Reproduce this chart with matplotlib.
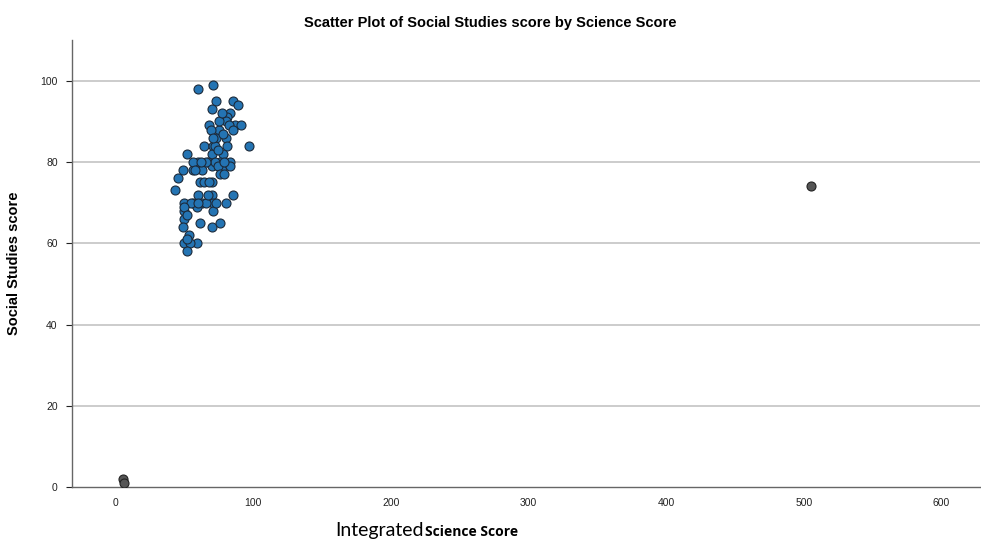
import matplotlib
matplotlib.use("Agg")
import matplotlib.pyplot as plt

# Main cluster (Science score, Social Studies score)
science = [60, 71, 73, 85, 89, 70, 83, 81, 80, 68, 75, 87, 91, 73, 80, 64, 97, 71, 81, 70,
           78, 52, 60, 67, 76, 83, 56, 63, 70, 77, 83, 49, 45, 61, 70, 43, 60, 70, 85, 50,
           56, 63, 71, 80, 59, 50, 71, 50, 61, 70, 76, 49, 53, 50, 59, 54, 52,
           75, 78, 72, 66, 74, 79, 64, 68, 76, 66, 73, 55, 60, 50, 52, 56, 72, 69, 82,
           85, 74, 62, 79, 67, 58, 52, 71, 77]
social = [98, 99, 95, 95, 94, 93, 92, 91, 90, 89, 88, 89, 89, 86, 86, 84, 84, 84, 84, 82,
          82, 82, 80, 80, 80, 80, 78, 78, 79, 78, 79, 78, 76, 75, 75, 73, 72, 72, 72, 70,
          70, 70, 70, 70, 69, 68, 68, 66, 65, 64, 65, 64, 62, 60, 60, 60, 58,
          90, 87, 80, 80, 79, 80, 75, 75, 77, 70, 70, 70, 70, 69, 61, 80, 84, 88, 89,
          88, 83, 80, 77, 72, 78, 67, 86, 92]

# Outlying cases
out_science = [5, 6, 505]
out_social = [2, 1, 74]

x_ticks = [0, 100, 200, 300, 400, 500, 600]
y_ticks = [0, 20, 40, 60, 80, 100]

fig = plt.figure(figsize=(9.81, 5.43), dpi=100)
ax = fig.add_axes([0.073, 0.103, 0.926, 0.823])

for y in y_ticks[1:]:
    ax.axhline(y, color="#c8c8c8", lw=1.3, zorder=0)

ax.scatter(science, social, s=42, c="#2474b3", edgecolors="#1c2a3a", linewidths=0.8, zorder=3)
ax.scatter(out_science, out_social, s=42, c="#555555", edgecolors="#222222", linewidths=0.8, zorder=3)

ax.set_xlim(-32, 628)
ax.set_ylim(0, 110)
ax.set_xticks(x_ticks)
ax.set_yticks(y_ticks)
ax.tick_params(axis="x", length=0, labelsize=7.5, pad=8, colors="#222222")
ax.tick_params(axis="y", length=4, labelsize=7.5, pad=6, colors="#222222")
for lab in ax.get_xticklabels() + ax.get_yticklabels():
    lab.set_family("Liberation Sans")

for s in ["top", "right"]:
    ax.spines[s].set_visible(False)
for s in ["left", "bottom"]:
    ax.spines[s].set_color("#666666")
    ax.spines[s].set_linewidth(1.0)

ax.set_ylabel("Social Studies score", fontsize=10.5, fontweight="bold",
              family="Liberation Sans", labelpad=14)

fig.text(0.5, 0.958, "Scatter Plot of Social Studies score by Science Score",
         ha="center", va="center", fontsize=10.5, fontweight="bold", family="Liberation Sans")

t1 = fig.text(0.342, 0.012, "Integrated", ha="left", va="baseline", fontsize=14, family="Lato")
fig.canvas.draw()
bb = t1.get_window_extent(fig.canvas.get_renderer())
x_next = bb.x1 / fig.bbox.width + 0.001
fig.text(x_next, 0.012, "Science Score", ha="left", va="baseline", fontsize=10,
         fontweight="bold", family="Open Sans")

fig.savefig("out.png", dpi=100)
